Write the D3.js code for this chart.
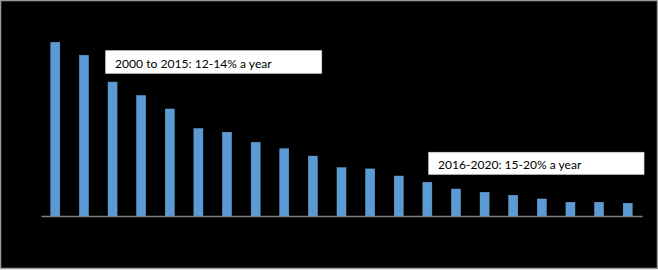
<!DOCTYPE html>
<html>
<head>
<meta charset="utf-8">
<script src="https://cdn.jsdelivr.net/npm/d3@7/dist/d3.min.js"></script>
<style>
html,body{margin:0;padding:0;background:#fff;}
svg{display:block;}
</style>
</head>
<body>
<script>
// Data (first year indexed to 100)
const years = ["2000","2001","2002","2003","2004","2005","2006","2007","2008","2009","2010",
               "2011","2012","2013","2014","2015","2016","2017","2018","2019","2020"];
const values = [100, 92.5, 77.1, 69.3, 61.6, 50.3, 48.2, 42.4, 38.7, 34.5, 27.8,
                27.1, 23.0, 19.4, 15.5, 13.6, 11.9, 9.8, 7.9, 7.9, 7.3];
const annotations = ["2000 to 2015: 12-14% a year", "2016-2020: 15-20% a year"];

const W = 658, H = 270;
const svg = d3.select("body").append("svg").attr("width", W).attr("height", H);

svg.append("rect").attr("x", 0.5).attr("y", 0.5).attr("width", W - 1).attr("height", H - 2)
  .attr("fill", "#000").attr("stroke", "#9a9a9a").attr("stroke-width", 1.5);

const x = d3.scaleBand().domain(years).range([41, 642]).paddingInner(0.685).paddingOuter(0.3425);
const y = d3.scaleLinear().domain([0, 100]).range([216, 42.3]);

svg.selectAll("rect.bar").data(values).join("rect")
  .attr("class", "bar")
  .attr("x", (d, i) => x(years[i]))
  .attr("width", x.bandwidth())
  .attr("y", d => y(d))
  .attr("height", d => y(0) - y(d))
  .attr("fill", "#5b9bd5")
  .attr("stroke", "#6aa7dd").attr("stroke-width", 0.5);

const axis = d3.axisBottom(x).tickSize(0).tickFormat("");
const ax = svg.append("g").attr("transform", `translate(0,${y(0)})`).call(axis);
ax.select(".domain").attr("stroke", "#7f7f7f").attr("stroke-width", 1.5);

// Annotation boxes
const boxes = [
  {text: annotations[0], x: 105.7, y: 50.7, w: 216, h: 22.6, tx: 115, ty: 67.5, tw: 156.7},
  {text: annotations[1], x: 428.7, y: 152.3, w: 215.3, h: 22, tx: 438, ty: 168.5, tw: 143.3}
];
boxes.forEach(b => {
  svg.append("rect").attr("x", b.x).attr("y", b.y).attr("width", b.w).attr("height", b.h)
    .attr("fill", "#fff").attr("stroke", "#d9d9d9").attr("stroke-width", 0.75);
  svg.append("text").attr("x", b.tx).attr("y", b.ty)
    .attr("font-family", "Lato, 'Open Sans', sans-serif").attr("font-size", 12)
    .attr("fill", "#000")
    .attr("textLength", b.tw).attr("lengthAdjust", "spacingAndGlyphs")
    .text(b.text);
});
</script>
</body>
</html>
